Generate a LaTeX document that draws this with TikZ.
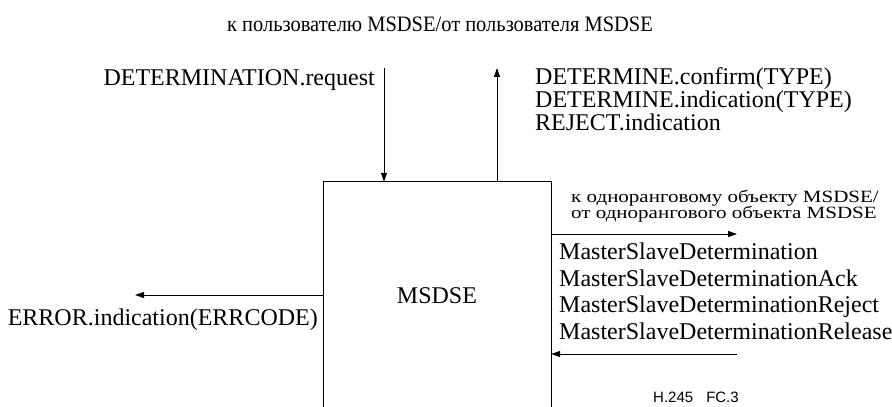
\documentclass[tikz,border=0pt]{standalone}
\usepackage{fontspec}
\setmainfont{Liberation Serif}
\newfontfamily\labsans{Liberation Sans}
\usetikzlibrary{arrows.meta}
\tikzset{
  lbl/.style={inner sep=0pt, font=\fontsize{24}{24}\selectfont},
  conn/.style={line width=0.9pt, -{Triangle[length=9pt,width=6pt]}},
  side/.style={line width=0.9pt}
}
\begin{document}
\begin{tikzpicture}[x=1pt,y=1pt]
\useasboundingbox (0,0) rectangle (892,407);
% box (open at the bottom)
\node[minimum width=227pt, minimum height=225pt, inner sep=0pt] (box) at (437.5,112.5) {};
\draw[side] (box.south west) -- (box.north west) -- (box.north east) -- (box.south east);
\node[lbl] (name) at (437,111) {MSDSE};
% top label
\node[inner sep=0pt] (top) at (440,383) {\scalebox{0.93}[1]{\fontsize{22}{22}\selectfont к пользователю MSDSE/от пользователя MSDSE}};
% user side
\node[lbl, anchor=base east] (req) at (375,321) {DETERMINATION.request};
\coordinate (reqstart) at (384,339);
\draw[conn] (reqstart) -- (reqstart |- box.north);
\coordinate (confend) at (497,339);
\draw[conn] (confend |- box.north) -- (confend);
\node[lbl, anchor=base west] (c1) at (535,322) {DETERMINE.confirm(TYPE)};
\node[lbl, anchor=base west] (c2) at (535,299) {DETERMINE.indication(TYPE)};
\node[lbl, anchor=base west] (c3) at (535,276) {REJECT.indication};
% error
\coordinate (errend) at (135,112);
\draw[conn] (box.west |- errend) -- (errend);
\node[lbl, anchor=base east] (err) at (318,81) {ERROR.indication(ERRCODE)};
% peer side
\node[inner sep=0pt, anchor=base west] (p1) at (571,204.5) {\scalebox{1}[0.82]{\fontsize{21}{21}\selectfont к одноранговому объекту MSDSE/}};
\node[inner sep=0pt, anchor=base west] (p2) at (571,188) {\scalebox{1}[0.82]{\fontsize{21}{21}\selectfont от однорангового объекта MSDSE}};
\coordinate (outend) at (737,173);
\draw[conn] (box.east |- outend) -- (outend);
\node[lbl, anchor=base west] (m1) at (559,147) {MasterSlaveDetermination};
\node[lbl, anchor=base west] (m2) at (559,120.5) {MasterSlaveDeterminationAck};
\node[lbl, anchor=base west] (m3) at (559,94) {MasterSlaveDeterminationReject};
\node[lbl, anchor=base west] (m4) at (559,67.5) {MasterSlaveDeterminationRelease};
\coordinate (instart) at (737,53);
\draw[conn] (instart) -- (box.east |- instart);
\node[inner sep=0pt, font=\labsans\fontsize{15}{15}\selectfont] (fig) at (696,10) {H.245\hspace{13pt}FC.3};
\end{tikzpicture}
\end{document}
